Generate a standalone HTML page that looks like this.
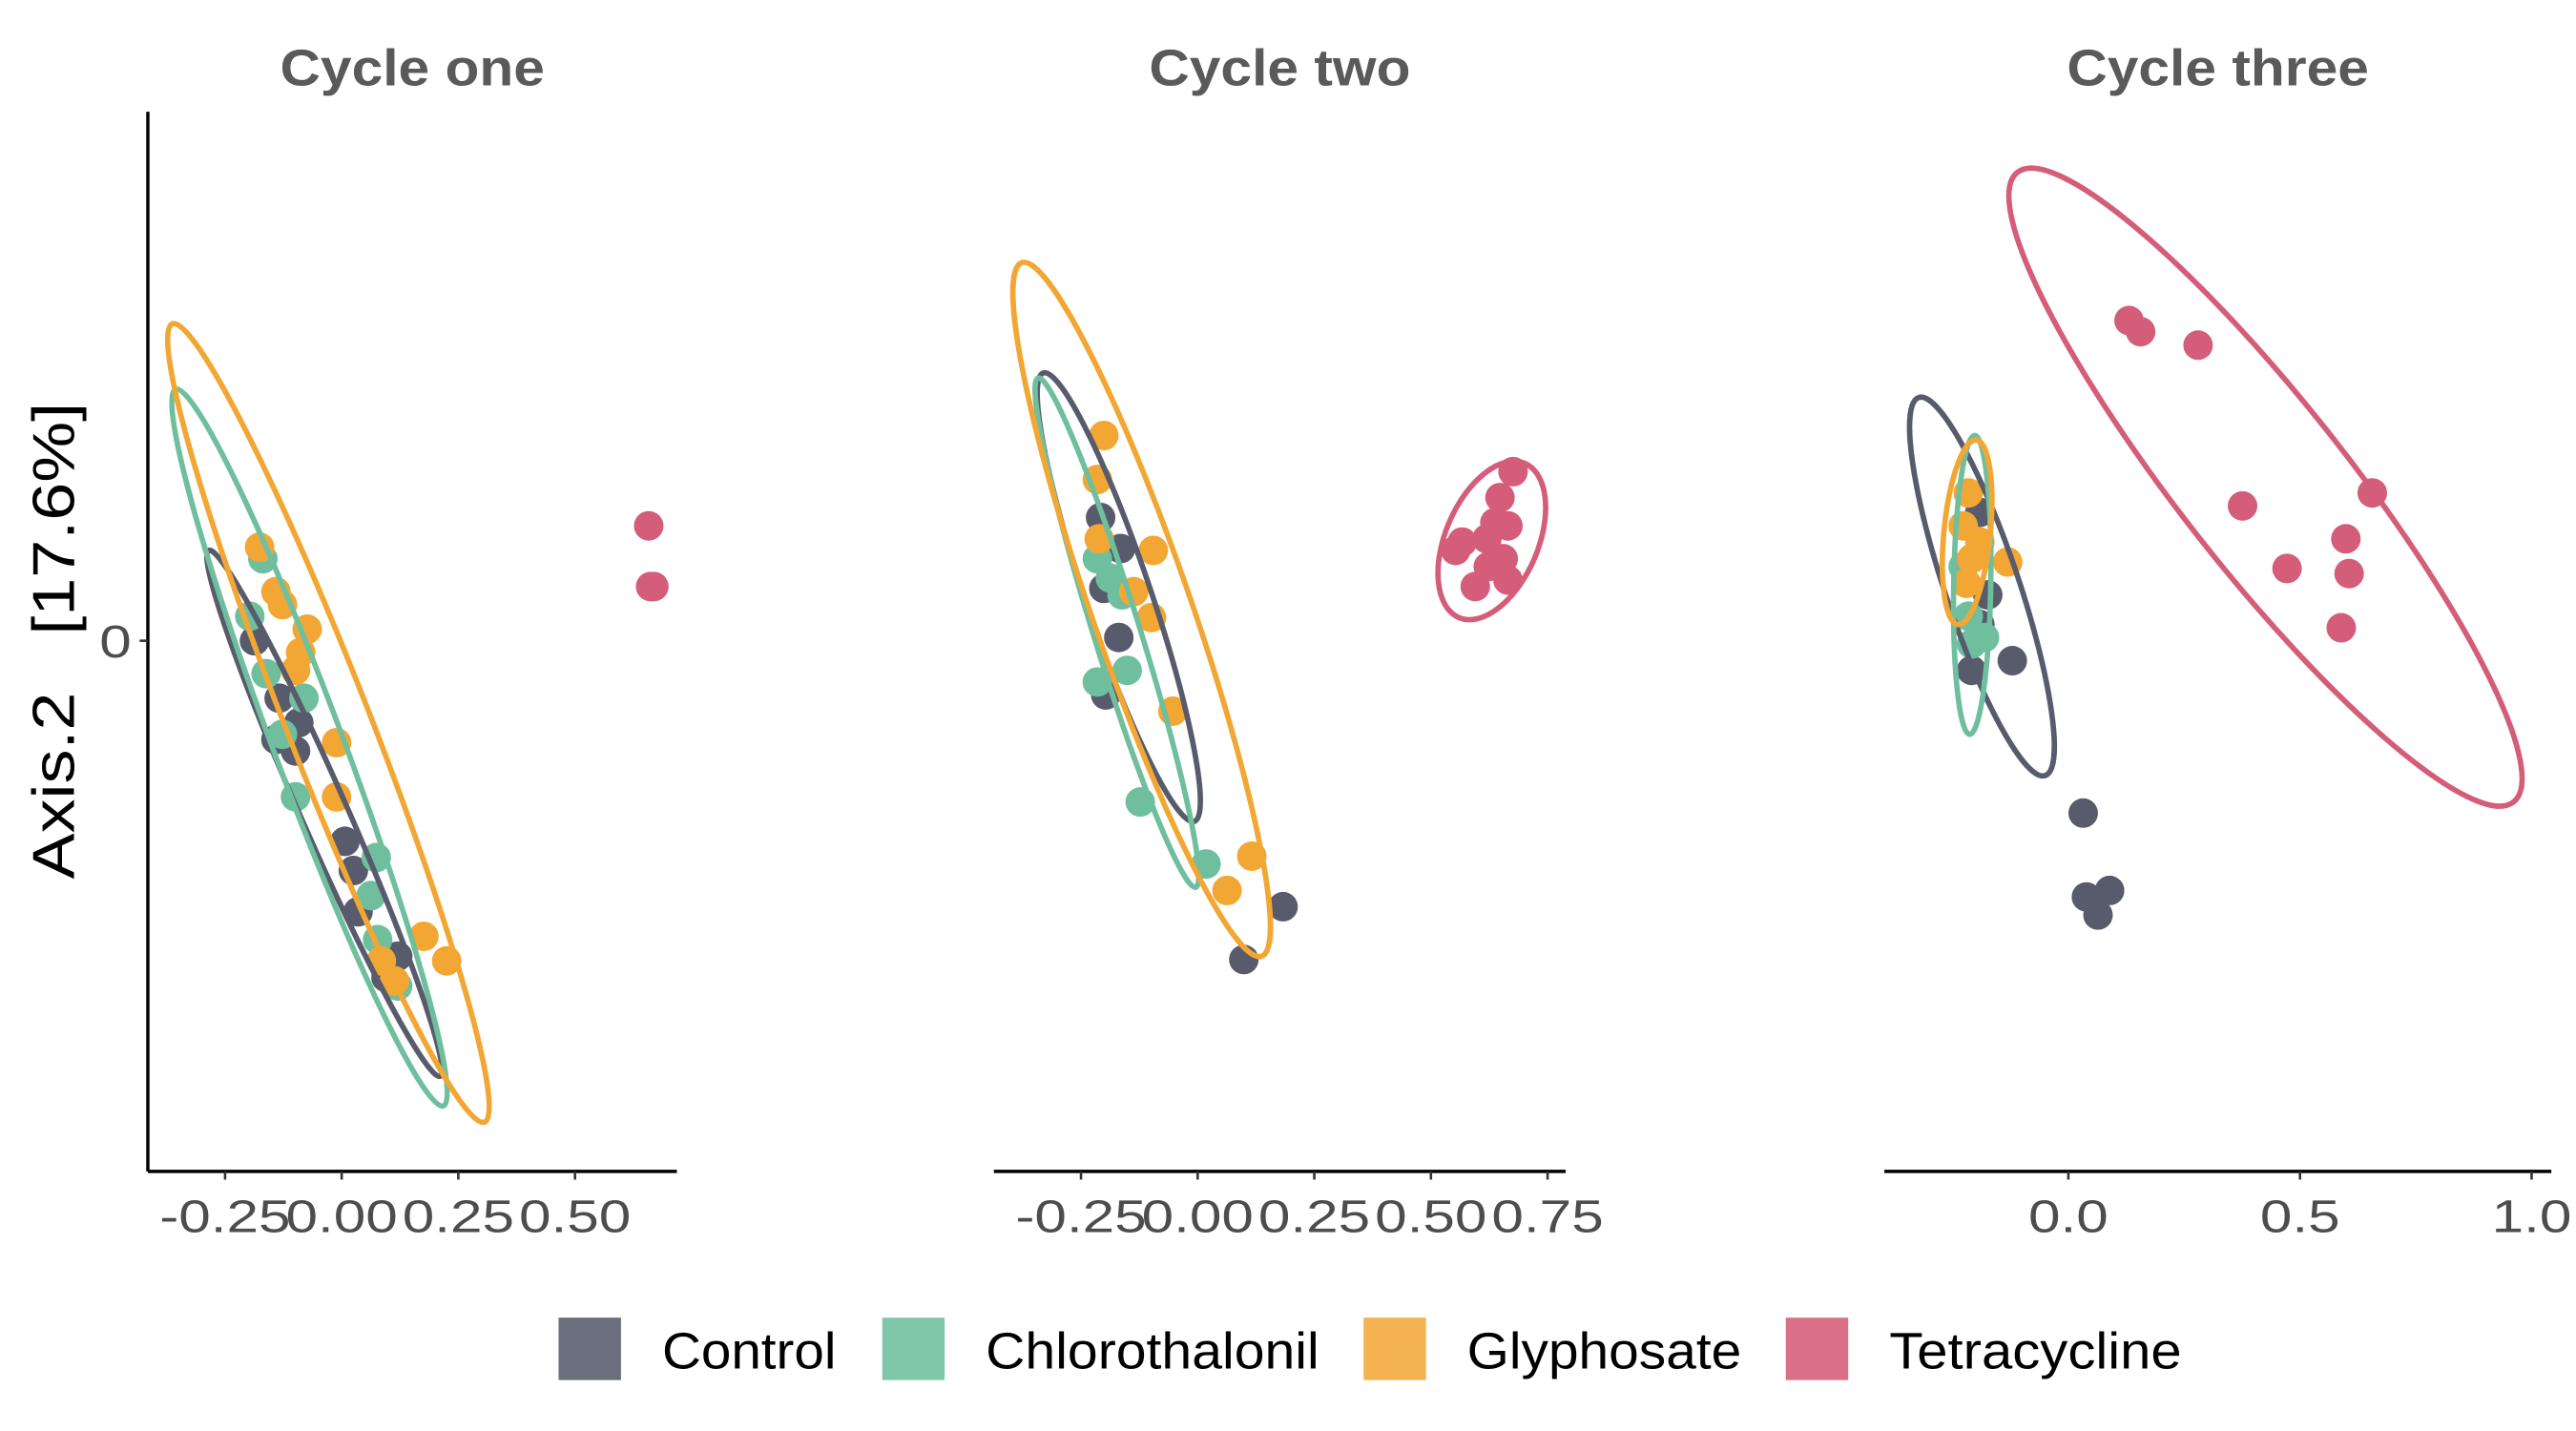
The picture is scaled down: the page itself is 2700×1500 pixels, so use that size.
<!DOCTYPE html>
<html><head><meta charset="utf-8"><style>
html,body{margin:0;padding:0;background:#fff;}
svg{display:block;}
text{font-family:"Liberation Sans",sans-serif;white-space:pre;}
</style></head><body>
<svg id="chart" width="2700" height="1500" viewBox="0 0 1568 871" preserveAspectRatio="none" xmlns="http://www.w3.org/2000/svg">
  <g id="layer"></g>
  <text transform="translate(45,390) rotate(-90)" text-anchor="middle" font-size="36" fill="#000" xml:space="preserve" textLength="290" lengthAdjust="spacingAndGlyphs">Axis.2   [17.6%]</text>
  <g>
    <rect x="340" y="802" width="38" height="38" fill="#6b6e7c"/>
    <text x="403" y="833" font-size="31" fill="#000" textLength="106" lengthAdjust="spacingAndGlyphs">Control</text>
    <rect x="537" y="802" width="38" height="38" fill="#80c7aa"/>
    <text x="600" y="833" font-size="31" fill="#000" textLength="203" lengthAdjust="spacingAndGlyphs">Chlorothalonil</text>
    <rect x="830" y="802" width="38" height="38" fill="#f4b350"/>
    <text x="893" y="833" font-size="31" fill="#000" textLength="167" lengthAdjust="spacingAndGlyphs">Glyphosate</text>
    <rect x="1087" y="802" width="38" height="38" fill="#d97087"/>
    <text x="1150" y="833" font-size="31" fill="#000" textLength="178" lengthAdjust="spacingAndGlyphs">Tetracycline</text>
  </g>
</svg>
<script>
// ---- data ----
const groups = ["Control","Chlorothalonil","Glyphosate","Tetracycline"];
const panelTitles = ["Cycle one","Cycle two","Cycle three"];
const xTicks1 = [-0.25,0,0.25,0.5];
const xTickLabels1 = ["-0.25","0.00","0.25","0.50"];
const xTicks2 = [-0.25,0,0.25,0.5,0.75];
const xTickLabels2 = ["-0.25","0.00","0.25","0.50","0.75"];
const xTicks3 = [0,0.5,1];
const xTickLabels3 = ["0.0","0.5","1.0"];
const yTicks = [0];
const yTickLabels = ["0"];

// panel 1 points [x,y]
const p1Control = [[-0.187,0.000],[-0.134,-0.124],[-0.141,-0.213],[-0.099,-0.238],[-0.092,-0.177],[0.007,-0.433],[0.025,-0.496],[0.035,-0.585],[0.120,-0.681],[0.095,-0.727]];
const p1Chloro = [[-0.169,0.177],[-0.197,0.053],[-0.162,-0.071],[-0.081,-0.124],[-0.127,-0.202],[-0.099,-0.337],[0.074,-0.468],[0.063,-0.550],[0.077,-0.645],[0.120,-0.745]];
const p1Glypho = [[-0.176,0.202],[-0.141,0.106],[-0.127,0.078],[-0.074,0.025],[-0.088,-0.025],[-0.099,-0.064],[-0.011,-0.220],[-0.011,-0.337],[0.085,-0.691],[0.176,-0.638],[0.225,-0.691],[0.113,-0.734]];
const p1Tetra = [[0.658,0.248],[0.662,0.117],[0.669,0.117]];
// panel 2
const p2Control = [[-0.208,0.266],[-0.165,0.199],[-0.169,0.007],[-0.197,-0.117],[0.183,-0.574],[0.099,-0.688],[-0.201,0.113]];
const p2Chloro = [[-0.215,0.177],[-0.187,0.135],[-0.162,0.099],[-0.151,-0.064],[-0.215,-0.089],[-0.123,-0.348],[0.018,-0.482]];
const p2Glypho = [[-0.201,0.443],[-0.215,0.348],[-0.211,0.220],[-0.095,0.195],[-0.099,0.050],[-0.137,0.106],[-0.053,-0.152],[0.116,-0.465],[0.063,-0.539]];
const p2Tetra = [[0.676,0.365],[0.648,0.309],[0.637,0.255],[0.665,0.248],[0.620,0.220],[0.567,0.213],[0.553,0.195],[0.655,0.177],[0.665,0.131],[0.595,0.117],[0.623,0.160]];
// panel 3
const p3Control = [[0.032,-0.372],[0.039,-0.553],[0.089,-0.539],[0.064,-0.592],[-0.121,-0.043],[-0.209,-0.064],[-0.174,0.099],[-0.191,0.277],[-0.191,0.035]];
const p3Chloro = [[-0.181,0.007],[-0.209,-0.007],[-0.227,0.160],[-0.216,0.053]];
const p3Glypho = [[-0.216,0.319],[-0.227,0.248],[-0.209,0.177],[-0.131,0.170],[-0.220,0.124],[-0.191,0.213]];
const p3Tetra = [[0.131,0.691],[0.156,0.667],[0.280,0.638],[0.376,0.291],[0.472,0.156],[0.599,0.220],[0.656,0.319],[0.606,0.145],[0.589,0.028]];

// ellipses: [x1,y1,x2,y2,semiMinor] (major-axis endpoints in data units)
const e1Control = [-0.285,0.195,0.211,-0.940,0.05];
const e1Chloro = [-0.356,0.543,0.218,-1.004,0.075];
const e1Glypho = [-0.363,0.684,0.306,-1.039,0.09];
const e2Control = [-0.331,0.578,-0.007,-0.390,0.07];
const e2Chloro = [-0.342,0.567,-0.004,-0.532,0.05];
const e2Glypho = [-0.377,0.816,0.137,-0.681,0.107];
const e2Tetra = [0.701,0.383,0.560,0.050,0.10];
const e3Control = [-0.323,0.525,-0.050,-0.291,0.08];
const e3Chloro = [-0.202,0.443,-0.213,-0.202,0.04];
const e3Glypho = [-0.199,0.433,-0.238,0.035,0.05];
const e3Tetra = [-0.110,1.011,0.961,-0.348,0.18];

// ---- drawing ----
const NS = "http://www.w3.org/2000/svg";
const layer = document.getElementById("layer");
const colors = ["#585b6c","#6fbf9f","#f2a734","#d45d79"];
const Y0 = 390, SY = 282, YTOP = 68, YBOT = 713;
const panels = [
  {left:90,right:412,x0:208,sx:284,ticks:xTicks1,labels:xTickLabels1,yaxis:true,
   pts:[p1Control,p1Chloro,p1Glypho,p1Tetra],ell:[e1Control,e1Chloro,e1Glypho,null]},
  {left:605,right:953,x0:729,sx:284,ticks:xTicks2,labels:xTickLabels2,yaxis:false,
   pts:[p2Control,p2Chloro,p2Glypho,p2Tetra],ell:[e2Control,e2Chloro,e2Glypho,e2Tetra]},
  {left:1147,right:1553,x0:1259,sx:282,ticks:xTicks3,labels:xTickLabels3,yaxis:false,
   pts:[p3Control,p3Chloro,p3Glypho,p3Tetra],ell:[e3Control,e3Chloro,e3Glypho,e3Tetra]}
];
function yScale(v){return Y0 - v*SY;}
function mk(tag, attrs){const e=document.createElementNS(NS,tag);for(const k in attrs)e.setAttribute(k,attrs[k]);return e;}

panels.forEach((p,pi)=>{
  const xs = v => p.x0 + v*p.sx;
  const g = mk("g",{});
  
  
  layer.appendChild(g);
  const t = mk("text",{transform:`translate(${(p.left+p.right)/2},52) scale(1.1,1)`,"text-anchor":"middle","font-size":"31","font-weight":"bold",fill:"#5a5a5a"});
  t.textContent = panelTitles[pi];
  
  
  g.appendChild(t);
  const xa = mk("line",{x1:p.left,y1:YBOT,x2:p.right,y2:YBOT,stroke:"#000","stroke-width":2});
  
  
  g.appendChild(xa);
  p.ticks.forEach((v,i)=>{
    const tk = mk("line",{x1:xs(v),y1:YBOT,x2:xs(v),y2:YBOT+5,stroke:"#333","stroke-width":1.5});
    
    
    g.appendChild(tk);
    const tl = mk("text",{transform:`translate(${xs(v)},750) scale(1.25,1)`,"text-anchor":"middle","font-size":"28",fill:"#4d4d4d"});
    tl.textContent = p.labels[i];
    
    
    g.appendChild(tl);
  });
  if(p.yaxis){
    const ya = mk("line",{x1:p.left,y1:YTOP,x2:p.left,y2:YBOT,stroke:"#000","stroke-width":2});
    
    
    g.appendChild(ya);
    yTicks.forEach((v,i)=>{
      const tk = mk("line",{x1:p.left-5,y1:yScale(v),x2:p.left,y2:yScale(v),stroke:"#333","stroke-width":1.5});
      
      
      g.appendChild(tk);
      const tl = mk("text",{transform:`translate(${p.left-10},${yScale(v)+10}) scale(1.25,1)`,"text-anchor":"end","font-size":"28",fill:"#4d4d4d"});
      tl.textContent = yTickLabels[i];
      
      
      g.appendChild(tl);
    });
  }
  p.pts.forEach((arr,gi)=>{
    arr.forEach(d=>{
      const c = mk("circle",{cx:xs(d[0]),cy:yScale(d[1]),r:9,fill:colors[gi]});
      
      
      g.appendChild(c);
    });
  });
  p.ell.forEach((e,gi)=>{
    if(!e) return;
    const ax=xs(e[0]), ay=yScale(e[1]), bx=xs(e[2]), by=yScale(e[3]);
    const cx=(ax+bx)/2, cy=(ay+by)/2;
    const rx=Math.hypot(bx-ax,by-ay)/2, ry=e[4]*SY;
    const ang=Math.atan2(by-ay,bx-ax)*180/Math.PI;
    const el = mk("ellipse",{cx:cx,cy:cy,rx:rx,ry:ry,fill:"none",stroke:colors[gi],"stroke-width":3.3,transform:`rotate(${ang} ${cx} ${cy})`});
    
    
    g.appendChild(el);
  });
});
</script>
</body></html>
